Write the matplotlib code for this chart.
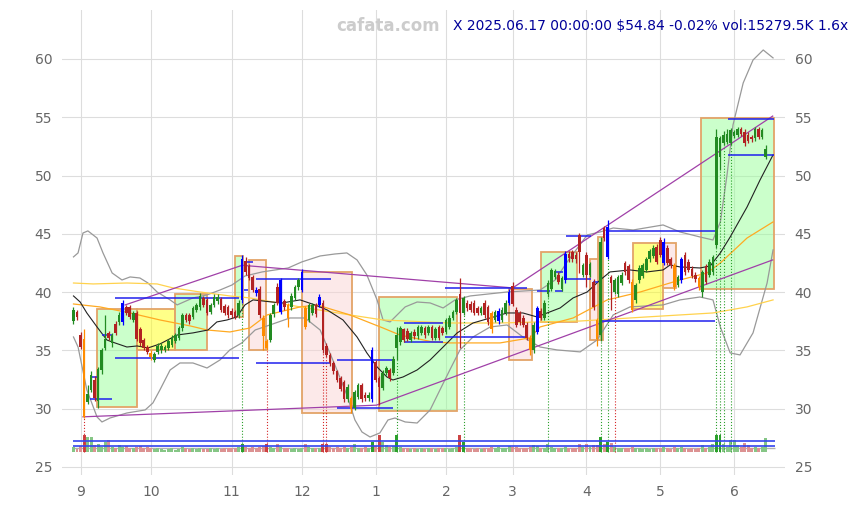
import numpy as np
import matplotlib.pyplot as plt
from matplotlib.patches import Rectangle

# x = trading day index, first bar 2024-08-29
month_pos = [2, 22, 45, 65, 86, 106, 125, 146, 167, 188]
month_lab = ["9", "10", "11", "12", "1", "2", "3", "4", "5", "6"]

opens = [
    37.5, 38.3, 36.3, 36.0, 30.6, 31.6, 32.5, 30.7, 33.3, 35.2, 36.5, 35.6, 37.3, 37.4, 37.4, 38.7, 38.7, 37.6, 38.2, 36.8, 35.9, 35.3,
    34.8, 34.2, 34.9, 35.0, 35.0, 35.2, 35.5, 35.8, 36.1, 36.9, 38.0, 38.0, 37.9, 38.5, 38.7, 39.5, 39.3, 38.3, 38.9, 39.2, 39.4, 38.8, 38.7,
    38.4, 38.3, 38.0, 39.3, 42.7, 42.2, 41.3, 40.2, 40.3, 37.8, 35.8, 35.9, 38.1, 40.4, 38.3, 39.2, 38.9, 38.7, 39.5, 40.4,
    40.2, 38.6, 37.6, 38.2, 38.9, 38.9, 39.1, 35.4, 34.6, 33.9, 33.2, 32.6, 32.3, 30.8, 30.9, 30.1, 31.0, 32.0, 31.2, 30.9, 30.8,
    34.0, 32.6, 31.8, 33.1, 33.3, 33.1, 35.2, 35.7, 36.8, 36.7, 35.9, 36.6, 36.2, 36.5, 36.9, 36.5, 37.0, 36.1, 37.0, 36.9,
    36.6, 37.0, 37.8, 38.3, 39.8, 38.2, 39.1, 39.0, 39.1, 38.6, 38.2, 39.1, 38.7, 38.2, 37.6, 37.5, 37.6, 38.2, 39.1,
    40.5, 38.5, 38.2, 37.8, 37.2, 36.1, 35.0, 36.6, 38.4, 37.8, 39.8, 40.3, 41.3, 41.5, 40.3, 41.0, 43.3, 43.4, 43.2, 44.9, 41.5,
    43.2, 41.5, 40.9, 37.6, 36.3, 45.5, 43.0, 41.3, 40.0, 39.8, 40.8, 42.5, 42.2, 40.9, 39.3, 41.0, 41.4, 41.9, 42.8, 43.1, 43.9,
    44.5, 42.5, 43.8, 42.8, 42.3, 40.6, 41.0, 43.2, 42.6, 42.0, 41.5, 41.2, 40.0, 42.2, 41.5, 41.7, 44.0, 51.6, 52.8, 52.9, 52.8,
    53.4, 53.5, 54.0, 53.7, 53.5, 53.3, 53.2, 54.0, 53.3, 51.6,
]
closes = [
    38.5, 37.9, 35.3, 29.3, 31.3, 32.9, 30.9, 33.4, 35.0, 36.0, 36.1, 36.3, 36.5, 38.0, 39.1, 38.2, 37.9, 38.2, 36.0, 35.6, 35.2, 34.9,
    34.4, 34.7, 35.4, 35.4, 35.3, 35.8, 36.1, 36.3, 36.9, 38.0, 37.6, 37.5, 38.6, 38.9, 39.7, 38.9, 38.2, 38.9, 39.6, 39.6, 38.5, 38.2, 38.0,
    38.0, 37.9, 39.1, 42.8, 41.7, 41.2, 40.2, 39.9, 38.0, 36.2, 35.2, 38.0, 38.9, 39.1, 41.0, 38.7, 37.8, 39.7, 40.4, 41.0,
    41.7, 37.0, 38.9, 38.9, 38.1, 39.6, 35.0, 34.6, 33.9, 33.2, 32.5, 31.7, 30.8, 31.9, 30.0, 31.4, 32.0, 30.8, 30.9, 31.2, 35.0,
    32.5, 31.9, 33.1, 33.5, 32.6, 34.3, 36.3, 36.9, 35.9, 36.0, 36.5, 36.2, 37.0, 37.0, 36.3, 37.0, 36.1, 36.8, 36.1, 36.5,
    37.6, 37.8, 38.3, 39.3, 38.2, 39.5, 38.6, 38.5, 38.2, 38.2, 38.6, 38.0, 37.4, 36.8, 38.3, 38.4, 38.5, 39.1, 40.0,
    39.0, 37.2, 37.4, 37.2, 36.1, 35.0, 37.2, 38.6, 37.8, 39.1, 40.8, 41.9, 41.8, 40.9, 41.2, 43.3, 42.9, 42.8, 42.8, 43.4, 42.3,
    41.5, 42.4, 38.7, 36.0, 44.3, 44.6, 45.6, 40.8, 41.0, 41.3, 41.5, 41.7, 41.0, 38.5, 40.6, 42.1, 42.3, 42.8, 43.5, 43.8, 42.6,
    43.2, 44.3, 42.5, 42.3, 40.4, 41.3, 42.8, 41.7, 41.9, 41.4, 41.1, 40.4, 41.7, 40.9, 42.6, 43.0, 53.3, 53.2, 53.5, 53.6, 53.9,
    53.7, 54.0, 53.6, 52.8, 53.0, 53.1, 54.0, 53.3, 53.9, 52.3,
]
highs = [
    38.7, 38.5, 36.6, 36.8, 32.0, 33.2, 32.8, 33.6, 35.2, 38.0, 36.7, 36.5, 37.5, 38.3, 39.3, 38.9, 38.9, 38.4, 38.4, 37.0, 36.1, 35.5,
    35.0, 34.9, 35.6, 35.6, 35.5, 36.0, 36.3, 36.5, 37.1, 38.2, 38.2, 38.2, 38.8, 39.1, 39.9, 39.7, 39.5, 39.1, 39.8, 39.8, 39.6, 39.0, 38.9,
    38.6, 38.5, 39.3, 43.2, 43.0, 42.4, 41.5, 40.4, 40.5, 38.0, 36.0, 38.2, 39.1, 40.8, 41.2, 39.4, 39.1, 39.9, 40.6, 41.2,
    42.0, 38.8, 39.1, 39.1, 39.1, 39.8, 39.3, 35.6, 34.8, 34.1, 33.3, 32.8, 32.5, 32.1, 31.1, 31.6, 32.2, 32.2, 31.4, 31.4, 35.3,
    34.2, 32.8, 33.3, 33.7, 33.5, 34.5, 37.0, 37.1, 36.9, 36.9, 36.7, 36.8, 37.2, 37.2, 37.1, 37.2, 37.2, 37.0, 37.2, 37.1,
    37.8, 38.0, 38.5, 39.5, 41.2, 39.7, 39.3, 39.2, 39.3, 38.8, 38.8, 39.3, 38.9, 38.4, 38.5, 38.6, 38.7, 39.3, 40.3,
    40.9, 38.7, 38.4, 38.0, 37.4, 36.3, 37.4, 38.8, 38.6, 39.3, 41.0, 42.1, 42.0, 41.7, 41.4, 43.5, 43.5, 43.6, 43.4, 45.1, 42.5,
    43.4, 42.6, 41.1, 37.8, 44.7, 45.7, 46.2, 41.5, 41.2, 41.5, 41.7, 42.7, 42.4, 41.1, 40.8, 42.3, 42.5, 43.0, 43.7, 44.0, 44.1,
    44.7, 44.6, 44.0, 43.0, 42.5, 41.5, 43.0, 43.4, 42.8, 42.2, 41.7, 41.4, 41.9, 42.4, 42.8, 43.2, 54.0, 53.4, 53.8, 54.0, 54.1,
    53.9, 54.2, 54.2, 54.0, 53.7, 53.5, 54.2, 54.2, 54.1, 52.6,
]
lows = [
    37.3, 37.6, 35.1, 29.2, 30.4, 31.4, 30.7, 30.1, 33.0, 35.0, 35.9, 35.3, 36.3, 37.2, 37.2, 38.0, 37.7, 37.4, 35.8, 35.4, 35.0, 34.7,
    34.2, 34.0, 34.7, 34.8, 34.9, 35.0, 35.3, 35.6, 35.9, 36.7, 37.4, 37.3, 37.7, 38.3, 38.5, 38.7, 38.0, 38.1, 38.7, 39.0, 38.3, 38.0, 37.8,
    37.8, 37.7, 37.8, 39.1, 41.5, 41.0, 40.0, 39.7, 37.8, 35.0, 35.0, 35.7, 37.9, 38.9, 38.1, 38.5, 37.0, 38.5, 39.3, 40.2,
    40.0, 36.8, 37.4, 38.0, 37.9, 38.7, 34.8, 34.4, 33.7, 33.0, 32.3, 31.5, 30.6, 30.6, 29.6, 29.9, 30.8, 30.6, 30.7, 30.7, 30.6,
    32.3, 30.3, 31.6, 32.9, 32.4, 32.9, 34.2, 35.5, 35.7, 35.8, 35.7, 36.0, 36.0, 36.3, 36.1, 36.3, 35.9, 35.9, 35.9, 36.3,
    36.4, 36.8, 37.6, 38.1, 35.2, 38.0, 38.4, 38.3, 38.0, 38.0, 38.0, 37.8, 37.2, 36.5, 37.4, 37.3, 37.4, 38.0, 38.9,
    38.8, 37.0, 37.2, 37.0, 35.9, 34.6, 34.8, 36.4, 37.6, 37.6, 39.6, 40.1, 41.1, 40.7, 40.1, 40.8, 42.6, 42.6, 42.5, 41.6, 41.3,
    40.4, 41.3, 38.5, 35.4, 35.8, 44.4, 42.8, 38.5, 39.8, 39.6, 40.6, 41.5, 40.8, 38.3, 39.1, 40.8, 41.2, 41.7, 42.6, 42.9, 42.4,
    43.0, 42.3, 42.3, 42.1, 40.2, 40.4, 40.8, 41.5, 41.7, 41.2, 40.9, 40.2, 39.6, 40.7, 41.3, 41.5, 43.8, 50.5, 52.6, 52.7, 52.6,
    53.2, 53.3, 53.4, 52.5, 52.8, 52.9, 53.0, 53.1, 53.1, 51.4,
]
vol_k = [
    5500, 3300, 6600, 18700, 16500, 16500, 7700, 8800, 5500, 11000, 13200, 5500, 4400, 7700, 5500, 6600, 4400, 4400, 5500, 6600, 4400, 5500,
    4400, 3300, 4400, 3300, 2200, 3300, 4400, 2200, 3300, 5500, 4400, 3300, 4400, 3300, 4400, 3300, 3300, 4400, 3300, 4400, 3300, 4400, 4400,
    4400, 4400, 5500, 8800, 5500, 4400, 5500, 4400, 5500, 6600, 8800, 5500, 4400, 8800, 5500, 4400, 4400, 3300, 4400, 3300,
    4400, 8800, 5500, 4400, 4400, 4400, 8800, 8800, 5500, 4400, 5500, 4400, 5500, 4400, 5500, 8300, 4400, 4400, 5500, 4400, 11000,
    6600, 18700, 11000, 7700, 5500, 6600, 18700, 5500, 4400, 4400, 3300, 4400, 3300, 4400, 3300, 4400, 4400, 3300, 4400, 4400,
    4400, 3300, 4400, 5500, 18700, 11000, 4400, 4400, 3300, 4400, 3300, 4400, 4400, 5500, 4400, 5500, 4400, 4400, 6600,
    5500, 5500, 4400, 4400, 4400, 5500, 7700, 6600, 4400, 4400, 8800, 5500, 4400, 4400, 4400, 5500, 4400, 4400, 4400, 8800, 5500,
    8800, 5500, 7700, 7700, 16500, 8800, 11000, 9900, 5500, 4400, 4400, 4400, 4400, 5500, 4400, 4400, 3300, 4400, 3300, 4400, 4400,
    4400, 5500, 4400, 3300, 5500, 4400, 5500, 4400, 3300, 4400, 3300, 4400, 7700, 4400, 5500, 8800, 18700, 18700, 8800, 5500, 13200,
    13200, 7700, 5500, 9900, 7700, 4400, 5500, 4400, 5500, 15280,
]
vol_levels = [11400, 6300]
vol_gray = 3700

blue_bars = [14, 48, 52, 59, 65, 70, 85, 121, 124, 132, 140, 152, 168, 173]
orange_bars = [3, 22, 54, 55, 61, 66, 79, 119, 130, 149, 159, 171, 178]
sig_up = [48, 92, 111, 135, 150, 152, 183, 184, 185, 187]
sig_dn = [3, 55, 71, 72, 154]
vol_dark = [3, 48, 55, 71, 72, 85, 87, 92, 110, 111, 150, 152, 183, 184]

# moving averages / bands (bar index, price)
ma20_x = [0, 1.9, 3.8, 6.7, 9.5, 11.8, 15.2, 18.1, 21.2, 24.6, 29.5, 34, 38.3, 40.8, 43.7, 46.5, 48.8, 51.1, 56.5, 59.4,
          64.5, 68.7, 72.2, 76.7, 80.7, 83.5, 86.4, 89.2, 90.9, 93.8, 97.8, 101.5, 105.2, 109.2, 113.7, 118.6, 123.4,
          127.9, 131.9, 134.8, 138.5, 142.2, 146.2, 149.9, 152.7, 158.4, 163.2, 167.8, 169.8, 172.6, 178.3, 181.2,
          184.1, 186.9, 191.7, 195.4, 199.1]
ma20_y = [39.67, 39.15, 38.21, 37.01, 35.89, 35.64, 35.29, 35.38, 35.21, 35.55, 36.32, 36.50, 36.75, 37.44, 37.61, 37.87,
          38.90, 39.33, 39.15, 39.07, 39.33, 38.90, 38.47, 37.61, 36.15, 34.78, 33.58, 32.72, 32.46, 32.72, 33.32, 34.18,
          35.29, 36.50, 37.35, 37.78, 38.21, 38.21, 37.87, 38.21, 38.64, 39.50, 40.01, 41.04, 41.73, 41.90, 41.73, 41.90,
          42.33, 42.16, 42.07, 42.24, 43.36, 44.73, 47.30, 49.62, 51.77]
ma60_x = [0, 7.5, 16.1, 24.6, 33.2, 38, 44.5, 50.2, 55.1, 64.5, 69.3, 78.7, 88.1, 92.9, 102.3, 107.1, 121.4, 129.9,
          132.8, 142.2, 151.9, 161.3, 172.6, 180.3, 184.1, 191.7, 199.1]
ma60_y = [38.98, 38.73, 38.21, 37.61, 37.10, 36.75, 36.58, 36.92, 38.04, 38.73, 38.90, 38.04, 36.92, 36.32, 35.72, 35.64,
          35.64, 36.07, 37.01, 37.78, 39.33, 40.01, 41.04, 41.64, 42.50, 44.64, 46.02]
ma120_x = [0, 5.6, 15.2, 23.8, 28.3, 36, 44.5, 50.2, 64.5, 78.7, 88.1, 107.1, 121.4, 132.8, 144.2, 163.2, 182, 191.7, 199.1]
ma120_y = [40.78, 40.70, 40.78, 40.70, 40.36, 40.01, 39.67, 39.50, 38.73, 38.04, 37.61, 37.35, 37.35, 37.44, 37.52,
           37.87, 38.21, 38.73, 39.33]
bb_up_x = [0, 1.3, 2.7, 4.1, 6.7, 8.4, 11, 13.8, 16.1, 18.9, 21.2, 23.8, 27.5, 29.5, 34, 38, 41.7, 45.1, 48.8, 53.7,
           61.1, 65, 70.2, 74.4, 77.8, 80.7, 83.5, 86.4, 88.1, 90.1, 92.1, 94.4, 97.8, 101.5, 105.2, 108.6, 112.9,
           123.4, 132.8, 137.1, 140.5, 146.2, 149.9, 153.6, 159.3, 167.8, 172.6, 178.3, 182, 184.1, 186, 187.7,
           190.6, 193.4, 196.3, 199.1]
bb_up_y = [43.02, 43.36, 45.07, 45.25, 44.64, 43.36, 41.64, 41.04, 41.30, 41.21, 40.78, 40.01, 39.33, 38.90, 39.50,
           39.76, 40.18, 40.61, 41.38, 41.73, 42.07, 42.59, 43.10, 43.27, 43.36, 42.76, 41.47, 39.33, 37.61, 37.44,
           38.04, 38.73, 39.15, 39.07, 38.64, 39.33, 39.67, 40.01, 40.18, 41.04, 42.59, 44.90, 45.16, 45.50, 45.33,
           45.76, 45.16, 44.73, 44.47, 46.02, 50.05, 54.34, 57.94, 59.91, 60.77, 60.09]
bb_lo_x = [0, 1.3, 3.8, 6.7, 8.1, 10.4, 15.2, 20.4, 22.6, 24.6, 27.5, 30.3, 34, 38, 41.7, 44.5, 47.9, 51.7, 55.9,
           61.6, 65.9, 70.2, 74.4, 77.8, 80.1, 82.1, 84.4, 87.2, 89.5, 91.5, 94.4, 97.8, 101.5, 104.3, 107.1, 110,
           113.7, 118.6, 123.4, 127.9, 132.8, 137.6, 144.2, 149, 153.6, 158.4, 167.8, 172.6, 178.3, 182, 184.1,
           186.9, 189.7, 193.4, 197.4, 199.1]
bb_lo_y = [36.15, 35.29, 31.61, 29.29, 28.86, 29.20, 29.63, 29.89, 30.49, 31.61, 33.32, 33.92, 33.92, 33.49, 34.18,
           35.04, 35.64, 36.75, 37.18, 37.78, 37.78, 36.75, 33.75, 31.18, 29.03, 28.00, 27.57, 27.92, 29.03, 29.20,
           28.86, 28.77, 29.89, 31.61, 33.32, 35.04, 36.15, 37.01, 37.18, 36.15, 35.29, 35.04, 34.87, 35.89, 38.04,
           38.73, 38.90, 39.33, 39.58, 39.33, 37.01, 34.78, 34.61, 36.50, 40.78, 43.62]

# trend lines through pivots
trend_hi_x = [14.7, 48.0, 125.0, 199.0]
trend_hi_y = [38.9, 42.3, 40.36, 55.1]
trend_lo_x = [2.7, 86.2, 199.0]
trend_lo_y = [29.3, 30.3, 42.76]

# consolidation boxes: start, end, low, high, kind
boxes = [
    (6.8, 18.0, 30.15, 38.55, "g"), (18.0, 28.9, 35.04, 38.55, "y"), (28.9, 37.9, 35.04, 39.85, "g"),
    (46.0, 48.2, 37.9, 43.1, "g"), (50.0, 54.8, 35.04, 42.76, "p"), (65.0, 79.3, 29.6, 41.7, "p"),
    (86.9, 109.2, 29.8, 39.6, "g"), (124.0, 130.5, 34.2, 40.3, "p"), (133.0, 143.3, 37.4, 43.4, "g"),
    (147.0, 150.0, 35.9, 42.8, "p"), (149.3, 150.7, 35.9, 44.7, "g"), (159.3, 167.8, 38.55, 44.2, "y"),
    (167.8, 171.5, 40.35, 44.2, "p"), (178.5, 199.4, 40.3, 54.9, "g"),
]
# support / resistance segments: start, end, price
levels = [
    (11.8, 47.2, 39.5), (11.8, 47.2, 34.35), (8.1, 11.0, 36.3), (4.7, 7.0, 32.7), (4.7, 11.0, 30.8),
    (48.8, 51.1, 42.6), (48.5, 49.8, 40.2), (51.9, 73.3, 41.1), (51.9, 73.0, 33.9), (75.0, 90.9, 34.2),
    (75.0, 90.9, 30.06), (94.1, 105.2, 37.35), (94.1, 105.2, 35.7), (105.7, 129.1, 36.15), (105.7, 129.1, 40.36),
    (132.0, 135.5, 40.1), (137.0, 139.3, 41.7), (137.0, 139.3, 40.1), (140.5, 147.3, 41.1), (140.2, 147.3, 44.8),
    (147.9, 149.3, 40.9), (152.1, 182.6, 45.2), (150.4, 182.6, 37.5), (186.3, 199.4, 54.85), (186.3, 199.4, 51.8),
]

n = len(closes)
x = np.arange(n)
o = np.array(opens); c = np.array(closes); h = np.array(highs); l = np.array(lows)

fig = plt.figure(figsize=(8.59, 5.05), dpi=100)
ax = fig.add_axes([62 / 859, 30 / 505, 723 / 859, 465 / 505])

# half transparent so the grid shows through, like the original
box_fill = {"g": (0.6, 1.0, 0.6, 0.5), "y": (1.0, 1.0, 0.07, 0.5), "p": (0.98, 0.83, 0.83, 0.5)}
for x0, x1, lo, hi, k in boxes:
    ax.add_patch(Rectangle((x0, lo), x1 - x0, hi - lo, facecolor=box_fill[k],
                           edgecolor="#e3a468", lw=1.3, zorder=1))

ax.plot(bb_up_x, bb_up_y, color="#999999", lw=0.9, zorder=2)
ax.plot(bb_lo_x, bb_lo_y, color="#999999", lw=0.9, zorder=2)
ax.plot(ma120_x, ma120_y, color="#ffd24d", lw=0.9, zorder=2)
ax.plot(ma60_x, ma60_y, color="#ffaa22", lw=0.9, zorder=2)
ax.plot(ma20_x, ma20_y, color="#222222", lw=0.8, zorder=3)
ax.plot(trend_hi_x, trend_hi_y, color="#a040a8", lw=0.9, zorder=3)
ax.plot(trend_lo_x, trend_lo_y, color="#a040a8", lw=0.9, zorder=3)

for x0, x1, p in levels:
    ax.hlines(p, x0, x1, color="#2020ee", lw=1.1, zorder=3)

# volume at the bottom of the price axis
vol_base = 26.31
vol_scale = 1 / (1100 * 11.657)
up = c >= o
vcol = []
for i in range(n):
    dark = i in vol_dark
    if up[i]:
        vcol.append("#2ca02c" if dark else "#86c686")
    else:
        vcol.append("#cc4444" if dark else "#dc9292")
ax.hlines(vol_base + vol_gray * vol_scale, -0.1, 199.6, color="#b0b0b0", lw=1.0, zorder=1.5)
ax.bar(x, np.array(vol_k) * vol_scale, bottom=vol_base, width=0.85, color=vcol, zorder=2)
for v in vol_levels:
    ax.hlines(vol_base + v * vol_scale, -0.1, 199.6, color="#3344ee", lw=1.2, zorder=3)

for i in sig_up:
    ax.vlines(i, vol_base, l[i], color="#2ca02c", lw=0.8, ls=":", zorder=2)
for i in sig_dn:
    ax.vlines(i, vol_base, l[i], color="#d62728", lw=0.8, ls=":", zorder=2)

# candles
col = np.where(up, "#228b22", "#b22222").astype(object)
for i in blue_bars:
    col[i] = "#0000ff"
for i in orange_bars:
    col[i] = "#ff8c00"
ax.vlines(x, l, h, color=col, lw=0.9, zorder=4)
ax.bar(x, np.maximum(np.abs(c - o), 0.06), bottom=np.minimum(o, c), width=0.75, color=col, zorder=5)

ax.set_xlim(-3.27, 202.5)
ax.set_ylim(24.31, 64.2)
ax.set_xticks(month_pos)
ax.set_xticklabels(month_lab)
ax.set_yticks(range(25, 61, 5))
ax.grid(True, color="#dddddd", lw=0.8, zorder=0)
ax.set_axisbelow(True)
for s in ax.spines.values():
    s.set_visible(False)
ax.tick_params(length=0, labelsize=10, labelcolor="#666666", labelright=True, pad=7)

fig.text(0.452, 0.948, "cafata.com", color="#cccccc", fontsize=12, fontweight="bold", ha="center", va="center")
fig.text(0.987, 0.948, "X 2025.06.17 00:00:00 $54.84 -0.02% vol:15279.5K 1.6x",
         color="#000099", fontsize=10, ha="right", va="center")

fig.savefig("out.png", dpi=100)
